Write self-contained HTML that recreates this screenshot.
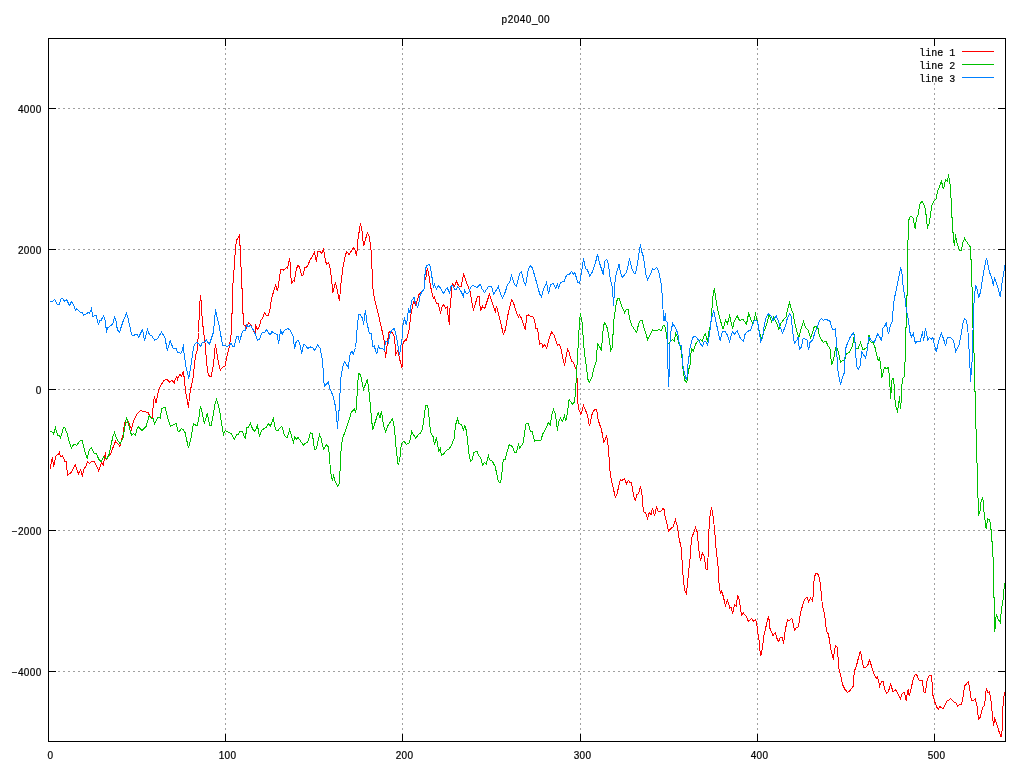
<!DOCTYPE html>
<html><head><meta charset="utf-8"><title>p2040_00</title>
<style>
html,body{margin:0;padding:0;background:#fff;}
body{width:1024px;height:768px;overflow:hidden;}
svg{display:block;will-change:transform;}
text{font-family:"Liberation Sans",sans-serif;font-size:10px;fill:#000;stroke:#000;stroke-width:0.2px;}
.m{font-family:"Liberation Mono",monospace;font-size:10px;}
</style></head><body>
<svg width="1024" height="768" viewBox="0 0 1024 768">
<rect width="1024" height="768" fill="#fff"/>
<g stroke="#a0a0a0" stroke-width="1" stroke-dasharray="2 3" shape-rendering="crispEdges" fill="none">
<path d="M58 108.5H998"/>
<path d="M58 249.5H998"/>
<path d="M58 389.5H998"/>
<path d="M58 530.5H998"/>
<path d="M58 671.5H998"/>
<path d="M225.5 735V47"/>
<path d="M402.5 735V47"/>
<path d="M580.5 735V47"/>
<path d="M757.5 735V47"/>
<path d="M934.5 735V47"/>
</g>
<polyline fill="none" stroke="#ff0000" stroke-width="1" shape-rendering="crispEdges" stroke-linejoin="miter" points="50.25,468.5 52.38,457.25 53.62,466.5 56.12,455.62 58.62,454.38 59.5,452.25 60.5,456.88 62.38,455.62 64.88,461.25 66.5,461.88 67.38,475.62 71.12,472.5 75.25,464.38 78.38,473.75 80.5,469.75 82.38,475.62 83.62,469.75 85.5,466.88 87.75,461.5 89.62,463.5 91.5,461.25 94.25,461.25 98.62,470.62 101.5,462.5 103.38,465.25 105.5,452.25 106.12,459.38 110.5,454 113,447.5 115.5,441.25 119.88,446.25 123,435 124.62,422.5 126.12,423.12 128,421 131.5,429.38 133.62,420.62 136.75,414.38 140.5,410.62 144.25,411.5 148,412.5 150.5,417.25 152.12,417.25 154.25,396.5 156.12,403.12 158.62,389.38 163.62,380.62 167,379.38 169.5,382.25 171.75,380.25 174.25,383.12 175.5,378.5 176.88,376.25 177.5,379.38 179.75,374.38 181.5,376.25 183.38,370.62 184.38,380 185.62,391.25 188.5,408.12 189.38,396.88 191.25,386.25 193.12,377.5 195.62,355 197.25,350 198.5,332.5 199.38,310.62 200.38,295 201.25,302.25 201.88,315 203.12,327.5 205,342.5 206.88,365 208.12,373.75 209.38,376.25 211.25,376.25 213.5,365 215.38,344.38 216.5,350 218.12,361.25 220.38,370 222.5,367.5 225,366 226.88,356.25 229.38,346.25 231.25,333.75 231.5,313.75 232.5,313.12 232.5,290 233.75,273.75 234.75,259 235.62,246.88 236.5,240 238.5,237.5 239.62,234.12 239.62,245 240.62,245.62 241,266.88 241.88,267.25 241.88,288.75 242.88,289 242.88,313.12 243.12,313.12 243.75,325 245.38,326 246.25,328.75 248.5,322.5 250.62,324.38 252.5,328.75 255,333.12 255.62,324.38 257.25,329.38 259,327.5 261,320 262.5,318.75 264.38,312.5 266.25,315 268.5,315 270,309.38 271.5,298.75 273.12,293.12 275.62,285 277.5,291.25 279.38,278.75 280.62,269.38 283.12,269.38 283.75,270.62 286.25,267.5 287.5,268.75 289.62,258.12 290.25,264.38 291,277.5 291.5,284.38 293.12,280.62 294.38,281.25 296.25,269.38 298,265 299.75,267.5 301.62,275.62 303.25,274.75 304.88,267.5 307,266.88 310.12,260 314.5,252.5 316.38,262.25 317.62,251.5 319.5,251.25 321.75,253.12 323.62,249.38 325.5,261.25 326.75,264.38 328.62,262.5 330.12,268.12 331.75,280 332.62,293.12 335.5,282.5 337,288.75 339.5,301.25 340.75,285 342,275 343.5,263.75 345.5,255.25 346.62,251.5 349.12,254.75 353.25,247.5 355.12,250 356.62,256.25 357.88,239.38 360.5,223.5 362,231.25 363.62,246.25 367.38,232.5 369.5,237.5 370.75,248.75 371.62,252.5 372,268.75 373,288.75 374.5,298.75 379.5,319.38 383.88,338.75 385.5,357.5 387.62,341.25 388.88,332.5 390.75,331.25 392.62,333.12 394.5,336.88 395.75,354.38 398,350 399.5,358.75 402,367.5 402.62,347.5 403.25,342.5 405.12,339.75 406.38,340.62 407.62,336.25 409.25,328.75 410.75,316 412.62,305 413.88,301.88 415.75,305 417,301.25 417.5,300 419,294.38 421.75,291.88 424,289.38 424.62,280 425.88,279.38 426.25,271.88 427.5,269.38 428.75,274.38 430.25,285 431.5,290.62 433.38,298.12 434.38,296.88 436.5,303.12 438.38,303.75 440.5,313.5 441.75,307.5 443.38,304.38 445.5,308.12 447.12,306.88 448.38,318.75 449.62,324.75 450.25,298.75 451.5,297.5 451.5,287.5 452.75,283.5 454.62,286.25 456.5,281.25 458.75,286 461.25,286.25 463.62,274.38 466.5,282.5 470.25,291.88 471.88,302.5 473.38,309.75 477.5,296.88 479,296.25 480.62,311.25 482.5,306.25 484.62,308.75 489.38,294.38 495.25,311.88 496.5,305.62 498.38,313.75 500.62,322.5 503.38,334.38 505.25,330 508.38,312.5 511.5,299.75 513.38,302.5 516.5,312.5 518.38,316.88 519.62,315 521.5,318.5 525.25,330 526.88,315.62 528.38,315 530.88,316.25 532.75,316.25 534.38,319.38 535.88,328.75 537.5,328.75 538.62,335 539.38,344.38 540.88,343.12 542,343.75 542.5,346.88 544.5,344.75 546.62,348.12 549.12,338.75 551.62,331.88 553.88,335 555.75,340 557.5,345.62 559.12,344.38 560.75,347.25 562.5,356.25 564.5,365.62 566,356.88 567.5,349.38 569.12,352.5 571.62,361.25 573.25,362.25 576.38,370 577.25,381.25 577.5,398.75 578.5,408.75 581,414.38 583.5,405.62 587.25,414.38 589.5,426.25 591.62,415.62 593.25,411 594.75,409.75 596.62,409.75 598.12,419.38 599.75,425 601.38,428.5 602.62,436.25 603.88,442.5 606.62,435.62 607.5,440 608.25,447.5 608.5,456.25 609.5,457.5 609.75,468.75 610.75,476.88 612.25,483.75 615.38,497.5 617,493.75 618.5,487.5 620.38,479.75 622.25,480.25 624.5,478.5 626.38,483.75 628.25,480.25 629.75,482.25 631.62,482.5 632.25,488.12 633.5,495 635.38,501.25 636.62,495 638.5,493.75 640.38,486.88 641.62,490.62 642.62,502.5 643.5,511.88 645.38,512.5 647.62,519.12 649.12,512.5 651,514.75 652.62,507.88 654.5,516.25 656.62,506.25 658.25,511.88 661,511.25 662.88,508.5 664,509.38 664.5,513.75 668.62,531.25 670.5,528.75 673,526.88 675.5,520 677.38,526.25 678.62,536.25 681.12,547.5 682,560 683,575 683.62,581.88 684.88,590.62 686.5,593.5 687.75,581.25 688.62,571.25 689.88,561.25 690.75,547.5 691.75,537.5 693.62,533.12 695.5,527.25 697.38,532.5 698.62,548.75 700.5,560.62 702.38,553.12 704.25,556.25 706.12,569.38 707.38,569.38 708,558.12 708.62,536.25 709.5,520 710.5,512.5 711.5,507.25 712.38,512.25 713.62,519.38 714.25,527.5 715.25,537.5 716.12,549.38 717.38,560.62 718.62,571.25 718.62,578.75 719.62,588.75 720.5,594.38 721.75,590.62 723.38,596.88 725.5,605.62 727.38,600.38 729.88,608.12 730.88,606.88 732.62,613.5 734.62,604.75 736.12,606.25 737.62,595.38 739.25,600 740.5,608.12 741.5,615.62 743.38,613.12 745.88,616 748.38,621.25 751.75,618.5 753.62,621.25 755.5,619.75 756.75,623.75 758,633.75 759.25,641.88 760.5,656.25 761.75,651.88 764.25,633.75 768.62,615.62 769.88,628.12 773,635.62 775.25,632.5 776.75,638.12 778.62,641.5 780.25,637.5 782.38,637.5 783.62,644.38 784.5,635 785.5,629.38 786.5,623.75 787.5,619.75 789,620.62 791.5,618.5 792.5,620 793.5,626.25 794.62,630 796.25,627.75 798.5,626.88 799.38,620 800.38,613.75 802.5,605.62 803.75,601.88 805.62,598.12 807.25,597.5 808.5,602.25 810.62,598.12 812.5,601 813.12,596.25 813.5,586.25 814.38,577.5 815.62,573.5 817.25,573.5 818.75,575.62 819.75,580 820.62,587.5 821.5,596.25 822.25,603.75 823.5,610 824.75,615 825.62,623.75 826.5,631.25 828.5,634.38 829.62,641.25 830.62,648.12 833.5,660 834.38,650 835.62,645.62 837.25,647.25 837.75,656.25 838.5,658.12 838.75,667.5 840.62,675 842.5,684.38 845,689.38 847.5,692.5 850,690.62 853.12,686.25 853.75,677.5 854.62,670.62 856.5,665.62 858.5,657.5 860.38,650.62 861.5,656.25 862.5,663.12 864,667.5 866.25,666.88 868.12,664.38 869.38,659.75 870.62,663.12 872.5,670 874.38,675 876.25,678.12 877.5,676.88 878.75,681.25 879.62,686.25 881.5,681.88 883.12,681.25 884.38,688.12 886.62,693.5 888.5,691.25 890.62,684.38 893.12,691.88 895.62,689.75 898.12,694.38 900.38,698.5 902.5,693.12 904.38,692.5 906.25,701.25 907.25,692.5 908.5,689.38 909.12,696.25 911.62,686.25 913.5,678.12 915.38,674.38 916.62,674.75 919.12,680 922.25,680.62 923.75,691.88 925.38,692.25 927.25,679.38 929.12,675.38 931.38,675.38 932.25,685 932.88,695 934.75,701.88 936.62,706.88 938.5,709.38 939.5,706.5 943.25,708.5 947,701 948.5,700.25 950.38,698.5 953.5,701.5 956,703.12 957.5,706.25 959.75,704.38 961.62,704.12 962.88,698.12 964.5,686.25 968.5,681.5 970,690.62 971.38,700.25 973.5,700.25 975.38,698.75 977,706.25 978.5,719.38 980.38,716.88 982.62,707.5 984.5,705.62 985.38,698.12 986.25,688.5 987.88,692.5 989.5,691.88 991,701.25 992,711.25 993.5,725.62 994.75,718.75 996.62,723.12 998.5,730 1000.75,736.25 1001.62,736.25 1002.25,727.5 1002.5,712.5 1003.5,699.38 1004.5,691.88"/>
<polyline fill="none" stroke="#00c000" stroke-width="1" shape-rendering="crispEdges" stroke-linejoin="miter" points="50.25,431.25 53,432.25 53.62,434 55.5,427.75 57.75,435.62 59,435 60.5,438.12 63.25,428.12 64.62,427.5 67.12,433.12 68.62,440 71.38,448.12 73.38,444.75 74.88,444.5 76.75,445.38 80.25,440.62 82.38,440.62 84.62,451.25 87.12,458.12 89.25,450 91.38,447.75 94.25,453.5 96.12,453.5 99.25,460 101.12,461.5 103.62,457.12 105.25,458.12 106.75,459 109.25,454 112.75,436.88 114.5,432.5 116.75,438.75 119.88,443.75 123,438.5 126.5,416.62 129,426.25 131.5,435.25 133.62,433.75 135.25,435.25 137.12,428.75 138.62,426.88 142,430.62 146.12,426.25 149.25,415.62 151.75,418.75 153.25,418.75 154.62,424 158,417.25 160.25,418.12 161.75,408.5 165.12,407.5 168.38,420 170.5,426 176,423.5 178.12,431 179.38,431.25 181.5,428.5 183.5,429.75 185,432.5 188.5,448.12 190.62,440 193.38,423.75 195.62,425 197.25,425 198.75,419.38 200.38,405.62 201.5,410 204.38,423.12 207.25,413.5 209.75,425 211.25,425 213.5,413.12 215,403.75 216.5,399.38 218.12,404.38 219.75,411.25 221.5,423.75 223.5,434.38 225,430.62 227.5,431.88 231.25,433.5 234.38,439.38 236.62,435 238.38,434.12 240,431.62 242.25,431.62 243.75,435 245.38,439.38 246.62,427.75 248.12,428.12 250.38,423.5 252.5,428.75 254.75,431.25 257.5,425.62 259.38,436.25 261.88,430 266.25,427.5 268.5,423.75 270.38,426 273.38,418.5 275.62,430 278.12,430.25 281.88,426.25 284.38,435 286.88,438.12 289.62,429.75 293.5,442.5 294.75,436.88 296.25,439.75 298,437.25 303.5,445.38 305.5,443.12 307.62,442.5 310.5,432.5 312.38,433.75 314.5,449.38 316.38,448.75 319.5,434.38 321,438.12 323.5,449.38 326.38,444.75 328.25,446.88 329.5,455 330.12,466.25 331,474.38 332.62,481.25 333.5,474.38 335.12,481.25 337.62,486.25 339.25,483.75 339.75,471.25 340.5,470.62 340.75,454.38 341.62,444.38 342.62,438.12 345.75,430 348.88,420.62 351.38,411.88 354.5,409 355.5,413.12 356.38,407.5 356.62,396.25 357.62,395 357.88,381.25 358.62,373.5 360.5,374.75 363.62,389.38 367.38,378.75 368.25,386.25 369.5,396.25 371,412.5 372.62,430 378.25,412.5 379.88,418.12 381.38,411.5 383.88,426.88 385.5,431.88 388.25,425 392.62,418.5 394.5,428.75 395.75,445 398,464.38 399.5,462.5 401.38,443.75 403.88,441.25 406.38,444.38 409.5,442.5 411.62,431.5 415.75,438.5 418.25,434.38 420,433.5 422.12,429.75 423.62,421.25 424.62,412.5 425.88,405.62 427.5,405.25 428.38,410.62 429.25,419.38 430.5,431.25 431.88,435 433.38,436.88 434.38,445 436.5,437.5 437.12,441.25 438.62,451.25 440.25,448.75 441.5,455.38 443.38,454.38 446.25,450.62 449,449.12 451.5,445 454,438.75 455.62,425 457.38,418.5 459,423.75 461.5,424.75 463.62,430.25 464.38,425.38 465.62,427.5 466.5,431.88 467.5,439.38 468.38,448.75 469.38,456.88 470.5,461.25 472.12,460 473.75,452.5 477.12,451.5 478.75,455.62 480.88,458.12 482.5,465.25 484.62,462.5 486.25,464.38 488.38,455.62 489.62,459.75 492.12,461 495,466.25 496.5,472.5 498,480 499.38,482.25 500.62,482.25 501.88,473.75 502.5,465.62 503.38,459.38 505.25,459.38 507.12,451.88 509.38,444.38 512.75,446.88 514.62,452.5 516.5,452.25 518.38,444.38 519.88,448.12 523.38,442.5 524.62,432.5 525.88,424.38 526.88,423.5 528.38,423.5 530.25,431.25 532.12,431.62 534.62,441.25 536.5,440.25 540.88,440.25 541.5,437.5 541.5,440.25 542.25,434.75 545.38,429.38 548.5,422.5 550.38,425 551.62,415 553.5,409.38 555.38,414.38 557.5,430.62 558.5,422.5 560.38,417.75 562.5,421.25 564.5,415.62 565.75,421.25 567.25,413.75 569.12,399.75 570.75,401.88 572.62,404.38 574.12,402.5 575,397.5 575.75,388.75 576.38,375 577.5,356.88 578.5,339.38 579.5,321.88 580.38,312.75 581.62,320.62 582.5,324.38 583.25,340 584.5,352.5 585.62,361.25 586.62,368.75 587.88,379.38 589.5,382.25 592.25,376.25 593.75,368.75 596.62,360 596.88,351.25 597.88,344.38 599.75,346.88 601.38,350.62 602.62,335 603.5,325.62 604.75,323.12 606.62,325.62 608.25,333.12 609.75,342.5 610.75,350.62 612.25,347.5 612.88,336.88 613.75,321.25 614.75,313.75 616.38,301.88 617.88,298.5 619.38,298.12 621,304.38 624.5,312.5 625.75,310 628.25,309.75 629.75,319.38 632.25,326.25 636.62,332.5 638.5,324.38 640.12,320.62 642.25,320.62 644.12,328.12 647.62,339.38 650.38,334.38 652.62,330 654.75,330.62 659.12,329.75 661.38,330.62 662.88,326.25 664,325 665.5,327.5 666.75,337.5 668,343.75 668.42,343.33 670.5,341.25 672.58,339.58 674.25,341.25 675.67,333.33 677.58,337.08 678.42,342.5 680.5,347.08 681.75,355 682.58,366.25 683.42,370.83 683.83,375 684.67,380 686.75,382.5 687.58,377.5 688.42,370.83 689.67,365.83 690.5,363.33 690.92,355 691.33,348.33 693.42,350.83 694.67,346.67 696.5,342.5 698.42,340.83 700.5,339.58 702.17,341.25 703.83,336.67 705.5,333.75 706.75,339.17 707.58,341.67 708.42,334.17 709.88,327.5 711.12,320 712.62,300 713.38,291.88 714.5,289.38 715.5,296.25 716.75,305 719.25,316.25 723,329.38 725.5,320 727.38,323.75 729.62,315.88 730.88,321.25 732.62,328.75 734.25,321.25 737.12,315.62 739.62,320.62 743,319.38 746.5,324 748.62,313.5 751.12,320 753,324.38 755.5,314.38 758,323.75 759.5,332.5 761.75,338.75 764.25,330.62 766.75,324.38 769.25,314.38 771.75,321.88 773.62,317.5 774.88,320 776.75,323.12 779,329.38 781.12,323.12 784.25,318.75 786,317.5 787.75,308.75 789.62,302.5 791.25,309.38 793.12,313.12 794.75,323.12 796.88,331.25 798.75,338.12 800.62,330 803.5,321.62 805.62,327.5 808.12,330 810.62,337.5 812.75,331.88 814.38,326.25 816.25,326.88 818.12,328.75 818.75,333.75 820.62,338.12 823.12,342.25 826.25,341.5 828.12,346.25 830,348.5 831.62,365 833.75,359 835.62,347.5 837.5,348.75 840.62,362.5 842.5,360.62 844.38,361 846.25,353.75 849.38,352.5 852.5,346.25 854.38,334.38 855.62,348.75 858.12,348.5 860.62,342.5 863.12,350 866.88,347.5 868.12,343.75 869,335 870.25,341.88 873.12,342.5 875,347.5 877.25,356.88 878.12,360.62 879.38,358.12 880.62,363.75 881.62,378.12 884.38,367.5 886.88,368.75 888.12,367.5 889.75,377.5 890.38,399.38 891.25,391.25 892.12,378.75 893.5,378.75 894.38,387.5 895,400 896.25,408.12 897.5,411.25 899.62,396.25 900.38,409.38 901.25,401.25 901.62,388.75 902.5,378.75 904.38,376.88 904.62,362.5 905.62,361.25 905.88,332.5 906.88,295.62 907.5,295 907.75,250 908.5,222.5 909.38,217.5 911,216.25 913.12,218.12 914.38,225 915.38,229.38 916.25,218.75 918.12,214.38 920,203.75 921.88,201.25 923.75,203.75 925.62,210 926.5,220 927.5,227.5 929.12,223.75 930.62,213.75 931.88,205.62 933.75,201.25 936.25,198.75 937.5,191.25 939,188.12 941.5,181.25 943.38,189.38 945.62,179.75 947.5,181.25 948.5,174.38 949.62,183.12 950.62,186.25 951,198.12 951.88,198.75 951.88,217.5 952.88,218.75 952.88,232.5 953.75,233.12 953.75,241.25 954.62,246.25 955.38,234.38 956.88,242.5 959.38,250 961.25,250.62 963.12,241.88 964.62,238.5 967.5,243.12 970.62,247.5 970.62,258.75 970.62,259.38 971.5,260 971.5,286.88 972.5,287.5 972.5,317.5 973.12,330 973.5,352.5 974.5,353.12 974.5,391.25 975.38,391.88 975.38,428.75 976.38,429.38 976.38,462.5 977.25,463.12 977.5,497.5 978.5,498.12 978.5,515.62 980.38,510 981,502.5 982.5,497.25 983.5,502.5 983.88,511.88 984.75,512.5 985,520 986.25,529.38 987.5,518.5 989.5,520 990.62,523.5 991,529.38 991.62,530 992,541.25 992.88,541.88 992.88,556.88 993.75,557.5 993.75,597.5 994.5,598.12 994.5,631.88 995.38,626.25 995.62,619.38 996.38,615 998.5,619.75 1000.38,622.5 1000.75,616.25 1001.62,608.12 1002.5,603.75 1003.5,596.25 1004.5,583.12"/>
<polyline fill="none" stroke="#0080ff" stroke-width="1" shape-rendering="crispEdges" stroke-linejoin="miter" points="50.25,301.5 52.38,301.5 54.88,299.38 57.38,304.38 59.25,304.38 61.12,298.5 62.38,298.5 64.62,301 66.5,299.38 69.5,305.38 71.5,301.5 72.75,302.88 75.5,310.38 76.5,308.75 80.5,312.5 82.38,312.75 83.62,315.38 86.75,313.75 88.25,312.25 89.62,313.12 91.5,308.5 92.75,316.25 96.12,315.62 98.38,324.38 99.88,320.25 101.12,320.25 103.62,315.62 104.88,318.75 106.5,331.25 108,327.5 111.75,325 113,323.12 114.62,317.25 115.88,319.75 117.38,330 119.5,332.25 122.75,322.25 126.5,313.12 128,318.12 131.75,335 133,335.38 137,334.38 138.62,337.25 142.62,329.38 144.5,340.62 147.38,329.38 149.62,335 151.5,335.38 154.62,340.25 157.38,338.75 161.5,332.25 164.88,337.5 167.38,350.62 170.25,340.62 173,348.12 176,348.5 177.75,352.5 181,353.12 182.5,349.75 183.38,344.38 184,352.5 185.62,365 188.75,378.5 191,365 193.38,348.75 194.38,345 196.5,342.5 198.75,343.75 200.62,346.25 202.25,342.75 204.75,341.88 206.25,339.75 209.38,344.38 213.12,333.12 214.38,323.75 215.38,309.12 216.5,315 219,325 222.5,345 225,345.62 227.5,346.5 229.38,345 231.25,343.5 232.88,346.25 234.38,346.25 236.62,336.5 238.38,336.5 239.38,342.5 242.25,331.88 243.75,330 245.38,330 246.5,324.75 248.12,326.88 250.62,325.38 254.38,331.88 257.5,340 259.38,339.38 261.88,333.12 264.62,332.25 266.5,329.75 269.38,334 270.62,334.38 271.88,331.5 275.62,334 277.5,334.38 278.5,344.38 280.62,330.25 282.25,334.38 283.5,331.25 287.5,328.5 290.25,330 293.12,336.25 294.62,349.38 295.62,343.12 298,340 299.75,343.12 301.62,353.5 303.5,344.38 305.75,345.62 307.62,348.5 310.75,346.88 312.62,347.75 314.5,350.38 317.62,345.25 320.12,348.12 322,357.5 323.25,370 323.25,380 324.75,386.25 328.25,381.88 330.12,389.38 333.25,396.25 335.12,405 336.38,413.12 337.62,429.38 338.5,411.25 339.5,410 339.75,393.12 340.75,392.25 340.75,378.12 342.62,367.5 344.5,361.5 348.25,367.5 350.12,353.75 352,351.25 353.25,354.38 355.5,347.5 356.38,340 357,330 358.62,314.75 360.5,314.75 362.62,318.75 363.62,325.38 364.5,315 365.5,310.38 366.75,321.88 369.25,333.12 371.12,333.5 373,346.88 374.25,345.62 376.62,354.38 378.5,346 380.12,348.75 382,348.12 384.12,350 385.75,341.5 387.62,341.25 388.25,342.5 390.12,333.12 392,330 394.25,328.5 395.5,332.25 397.62,343.75 399.5,355 400.75,346.88 402,338.75 402.62,329.38 403.25,323.12 404.5,318.75 406.38,325 407,321.25 408.62,308.5 410.12,313.12 411.38,301.25 414,297.25 415.25,302.5 417.5,307.25 419,302.5 420,296 421.75,291.88 424,289.38 424.62,279.38 425.5,268.5 427.12,265.25 429,264.38 430.25,266.88 431.5,273.75 433.38,287.5 434.38,284.38 436.5,288.75 438.38,285.62 440.25,287.88 443.38,293.5 447.12,287.5 449.62,293.12 450.88,286.25 452.75,285.38 454.62,289.12 456.5,289.12 457.75,286.62 460.25,290 463.38,296.25 464.62,290 466.5,293.75 468.75,292.5 470.88,286.88 472.75,285.38 476.88,287.5 480.25,284.38 482.12,289.12 484.62,292.5 488.38,286.62 491.5,286.62 493.75,294.12 498.38,286.62 500.25,293.12 502.5,298.12 505.25,291.88 507.75,284 509.62,282.5 511.5,275.62 514.62,284.38 516.5,286.25 519.62,273.5 521.5,271.88 524,281.88 525.62,285 528.38,268.75 530.62,265.62 532.5,268.12 535.88,280 539.62,293.75 541.5,296.88 543.75,288.75 546.62,282.25 548.5,294.38 550.38,285 552.88,283.12 555.75,288.12 557.5,284.38 558.5,288.12 560.62,282.5 564.12,281.25 566.62,275 569.12,274.75 571.62,271.5 573.25,274.75 574.75,272.5 577.88,282.5 579.75,283.12 581.62,271.25 583.5,258.5 585.62,268.75 587.5,270 589.75,276.25 592,272.5 595.38,263.12 597.5,254.38 599.75,263.75 603.5,275 604.5,261.25 606.62,259.38 608.5,264.38 609.75,276.25 612.25,287.5 613.75,306.25 614.5,285 616,275 619.12,263.75 620.38,272.5 622.25,277.5 626.62,272.25 629.5,258.5 631.62,268.12 634.12,273.5 635.62,273.12 637.25,265 640.38,244.38 641.62,251.25 643.5,256.88 646,275 647.62,280 650.38,274.38 652.62,268.5 654.12,269.75 656.62,267.25 658.5,270.62 661,282.5 662.5,297.5 663.25,315 664,321.25 665.5,313.12 665.75,320.62 667,321.88 667.5,345 667.83,361.67 668.42,386.67 669.25,373.33 669.67,349.17 670.5,333.33 671.75,327.5 672.75,323.5 674.88,326.88 677.38,332.25 678.25,336.25 679.5,345 681.12,345.62 682.17,355 682.58,365.83 683.42,366.67 684.25,373.33 685.5,376.67 686.33,380 687.33,375 687.58,364.17 688.42,363.33 688.67,356.67 689.5,355.83 689.67,350 690.5,345 691.75,342.08 692.33,338.33 693.83,336.25 695.08,336.25 697.17,337.92 698.83,340.83 700.5,344.17 702.58,346.25 704.25,341.67 705.92,342.08 707.58,345 708.83,338.33 709.67,333.33 710.5,324.38 711.75,317.5 713.62,310.62 714.88,316.25 718,331.25 720.12,340.62 722.38,331.88 724.88,331.25 726.75,333.75 729.62,341.5 731.75,333.5 732.75,331.25 734.5,334.38 737.12,330.62 739.88,337.5 743.38,341.25 745.12,334 748,331.25 750.5,330 753,323.75 754.25,320 756.75,320 758,324.38 759.25,332.5 760.75,341.25 762.38,338.75 764.25,325.62 766.12,317.5 768.62,313.5 771.12,316.25 773,320.62 776.12,315.62 778,320 779.88,326.25 782.38,333.12 784.88,327.5 786,324.38 786.25,321.25 789.38,313.75 791.25,316.25 792.5,330 794.38,343.12 796.88,340 798.12,336.88 799.38,349.38 801.25,347.25 803.12,338.75 806.88,339.38 808.5,350.38 810,342.5 812.75,340 815,331.88 817.5,326.88 819.38,321.25 821.25,318.5 823.12,320.38 826.25,319.38 830,321.25 832.25,328.75 834,330.25 835.38,328.75 836.25,339.38 836.88,355 837.75,370 840.62,385 842.5,377.5 844.38,372.5 844.75,360 845.62,348.75 847.5,343.12 850,337.5 853.12,332.75 854.62,336.88 855.38,348.75 856.25,361.25 857.25,368.75 858.5,369.38 860,365.62 861.88,351.88 865.62,358.12 867.5,348.75 868.5,338.12 869.38,337.5 871.25,340.62 872.88,341.25 874.38,342.5 876.25,336.88 877.88,333.75 880,337.5 881.5,341.25 883.12,327.5 884.38,326.88 886.25,323.12 888.5,334.38 890.62,324.38 892.25,321.88 892.5,311.88 893.5,310.62 894,300.62 895.62,292.5 897.5,283.75 900.62,267.5 901.88,272.5 902.5,281.25 903.75,290 905,297.5 906.5,311.25 908.12,318.12 910,332.5 911.5,336.88 913.25,333.5 915.38,343.12 917.25,341.5 920.38,341.25 922.5,331.25 923.5,341.25 925.38,328.5 927.88,340 929.5,337.5 931.62,339 932.88,337.75 934.12,343.12 936.25,351.88 939.12,339.38 941.38,333.12 943.5,338.75 945.62,346.25 947.25,337.5 950.38,337.25 953.5,340.62 955.75,351.25 959.12,345 961,335 962.88,323.75 964.5,318.5 966.38,320.25 967.88,330 968.5,341.25 969.5,356.25 970.62,382.25 971.62,363.75 972.5,360 972.88,330 973.5,328.75 973.75,306.25 974.75,293.12 975.62,285.62 976.88,288.75 978.75,298.12 980.62,291.25 982.5,278.75 984.38,267.5 986.5,257.75 987.75,263.75 989.38,271.88 991.88,278.12 993.5,286.25 994.38,276.88 996.25,282.5 998.75,290.62 1000.38,296.88 1001.88,283.75 1003.75,272.5 1005,265"/>
<rect x="918" y="46" width="40" height="36" fill="#fff"/>
<path d="M962 51.5H994" stroke="#ff0000" stroke-width="1" shape-rendering="crispEdges"/>
<text class="m" x="919.3" y="55.5" >line 1</text>
<path d="M962 64.5H994" stroke="#00c000" stroke-width="1" shape-rendering="crispEdges"/>
<text class="m" x="919.3" y="68.5" >line 2</text>
<path d="M962 77.5H994" stroke="#0080ff" stroke-width="1" shape-rendering="crispEdges"/>
<text class="m" x="919.3" y="81.5" >line 3</text>
<g stroke="#000" stroke-width="1" shape-rendering="crispEdges" fill="none">
<rect x="48.5" y="38.5" width="957.0" height="703.0"/>
<path d="M225.5 38V46M225.5 742V734"/>
<path d="M402.5 38V46M402.5 742V734"/>
<path d="M580.5 38V46M580.5 742V734"/>
<path d="M757.5 38V46M757.5 742V734"/>
<path d="M934.5 38V46M934.5 742V734"/>
<path d="M48 108.5H56M1006 108.5H998"/>
<path d="M48 249.5H56M1006 249.5H998"/>
<path d="M48 389.5H56M1006 389.5H998"/>
<path d="M48 530.5H56M1006 530.5H998"/>
<path d="M48 671.5H56M1006 671.5H998"/>
</g>
<text x="50.6" y="758.5" text-anchor="middle" letter-spacing="0.4">0</text>
<text x="227.6" y="758.5" text-anchor="middle" letter-spacing="0.4">100</text>
<text x="404.6" y="758.5" text-anchor="middle" letter-spacing="0.4">200</text>
<text x="582.6" y="758.5" text-anchor="middle" letter-spacing="0.4">300</text>
<text x="759.6" y="758.5" text-anchor="middle" letter-spacing="0.4">400</text>
<text x="936.6" y="758.5" text-anchor="middle" letter-spacing="0.4">500</text>
<text x="41.75" y="112.5" text-anchor="end" letter-spacing="0.4">4000</text>
<text x="41.75" y="253.5" text-anchor="end" letter-spacing="0.4">2000</text>
<text x="41.75" y="393.5" text-anchor="end" letter-spacing="0.4">0</text>
<text x="41.75" y="534.5" text-anchor="end" letter-spacing="0.4">−2000</text>
<text x="41.75" y="675.5" text-anchor="end" letter-spacing="0.4">−4000</text>
<text x="501.6" y="23" letter-spacing="0.5">p2040_00</text>
</svg>
</body></html>
